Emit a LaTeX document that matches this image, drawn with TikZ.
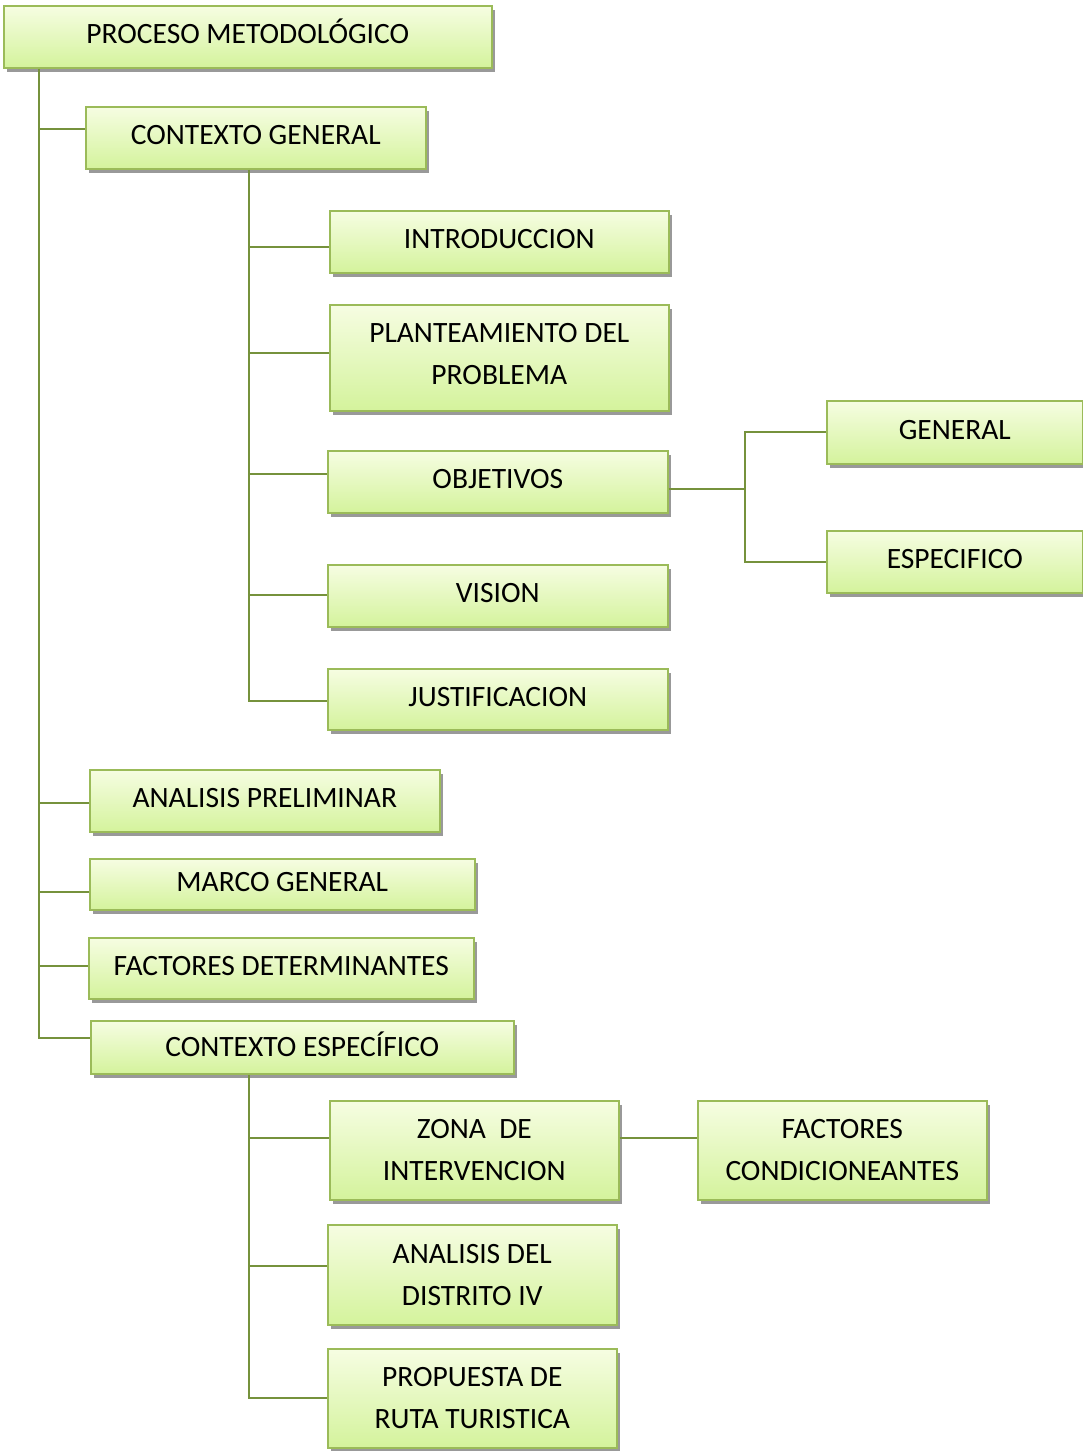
\documentclass[tikz,border=0pt]{standalone}
\usepackage{fontspec}
\setmainfont{Carlito}
\usetikzlibrary{shadows}
\definecolor{boxtop}{RGB}{246,253,226}
\definecolor{boxbot}{RGB}{212,243,156}
\definecolor{boxedge}{RGB}{155,187,89}
\definecolor{conncol}{RGB}{118,146,60}
\tikzset{
  box/.style={draw=boxedge, line width=1.6pt, top color=boxtop, bottom color=boxbot,
    inner sep=0pt, anchor=north west, align=center,
    font=\fontsize{29.5}{42}\selectfont,
    drop shadow={shadow xshift=3pt, shadow yshift=-4pt, fill=black!40, opacity=1}},
  one/.style={text height=19pt, text depth=5pt},
  conn/.style={draw=conncol, line width=2.2pt}
}
\begin{document}
\begin{tikzpicture}[x=1pt,y=-1pt]
\useasboundingbox (0,0) rectangle (1083,1451);
% coordinates of trunks
\coordinate (t1) at (39,0);
\coordinate (t2) at (249,0);
\coordinate (t3) at (745,0);
\coordinate (t4) at (249,0);
% boxes
\node[box, one, minimum width=488pt, minimum height=62pt] (root) at (3,5) {PROCESO METODOLÓGICO};
\node[box, one, minimum width=340pt, minimum height=62pt] (cg) at (85,106) {CONTEXTO GENERAL};
\node[box, one, minimum width=339pt, minimum height=62pt] (intro) at (329,210) {INTRODUCCION};
\node[box, text depth=8pt, minimum width=339pt, minimum height=106pt] (plan) at (329,304) {PLANTEAMIENTO DEL\\PROBLEMA};
\node[box, one, minimum width=340pt, minimum height=62pt] (obj) at (327,450) {OBJETIVOS};
\node[box, one, minimum width=340pt, minimum height=62pt] (vis) at (327,564) {VISION};
\node[box, one, minimum width=340pt, minimum height=61pt] (just) at (327,668) {JUSTIFICACION};
\node[box, one, minimum width=256pt, minimum height=63pt] (gen) at (826,400) {GENERAL};
\node[box, one, minimum width=256pt, minimum height=62pt] (esp) at (826,530) {ESPECIFICO};
\node[box, one, minimum width=350pt, minimum height=62pt] (ap) at (89,769) {ANALISIS PRELIMINAR};
\node[box, one, minimum width=385pt, minimum height=51pt] (mg) at (89,858) {MARCO GENERAL};
\node[box, one, minimum width=385pt, minimum height=61pt] (fd) at (88,937) {FACTORES DETERMINANTES};
\node[box, text height=19pt, text depth=1pt, minimum width=423pt, minimum height=53pt] (ce) at (90,1020) {CONTEXTO ESPECÍFICO};
\node[box, minimum width=289pt, minimum height=99pt] (zona) at (329,1100) {ZONA\ \ DE\\INTERVENCION};
\node[box, minimum width=289pt, minimum height=99pt] (fc) at (697,1100) {FACTORES\\CONDICIONEANTES};
\node[box, minimum width=289pt, minimum height=100pt] (ad) at (327,1224) {ANALISIS DEL\\DISTRITO IV};
\node[box, minimum width=289pt, minimum height=99pt] (prop) at (327,1348) {PROPUESTA DE\\RUTA TURISTICA};
% attachment points
\coordinate (pcg) at ([yshift=9pt]cg.west);
\coordinate (pap) at ([yshift=-2pt]ap.west);
\coordinate (pmg) at ([yshift=-7.5pt]mg.west);
\coordinate (pfd) at ([yshift=2.5pt]fd.west);
\coordinate (pce) at ([yshift=9.5pt]ce.west);
\coordinate (pintro) at ([yshift=-5pt]intro.west);
\coordinate (pplan) at ([yshift=5pt]plan.west);
\coordinate (pobj) at ([yshift=8pt]obj.west);
\coordinate (pvis) at ([yshift=1pt]vis.west);
\coordinate (pjust) at ([yshift=-1.5pt]just.west);
\coordinate (pobjr) at ([yshift=-7pt]obj.east);
\coordinate (pzona) at ([yshift=12.5pt]zona.west);
\coordinate (pzonar) at ([yshift=12.5pt]zona.east);
\coordinate (pfc) at ([yshift=12.5pt]fc.west);
\coordinate (pad) at ([yshift=9pt]ad.west);
% main trunk
\draw[conn] (t1 |- root.south) |- (pce);
\draw[conn] (t1 |- pcg) -- (pcg);
\draw[conn] (t1 |- pap) -- (pap);
\draw[conn] (t1 |- pmg) -- (pmg);
\draw[conn] (t1 |- pfd) -- (pfd);
% contexto general trunk
\draw[conn] (t2 |- cg.south) |- (pjust);
\draw[conn] (t2 |- pintro) -- (pintro);
\draw[conn] (t2 |- pplan) -- (pplan);
\draw[conn] (t2 |- pobj) -- (pobj);
\draw[conn] (t2 |- pvis) -- (pvis);
% objetivos
\draw[conn] (pobjr) -- (t3 |- pobjr);
\draw[conn] (gen.west) -- (t3 |- gen.west) -- (t3 |- esp.west) -- (esp.west);
% contexto especifico trunk
\draw[conn] (t4 |- ce.south) |- (prop.west);
\draw[conn] (t4 |- pzona) -- (pzona);
\draw[conn] (t4 |- pad) -- (pad);
\draw[conn] (pzonar) -- (pfc);
\end{tikzpicture}
\end{document}
